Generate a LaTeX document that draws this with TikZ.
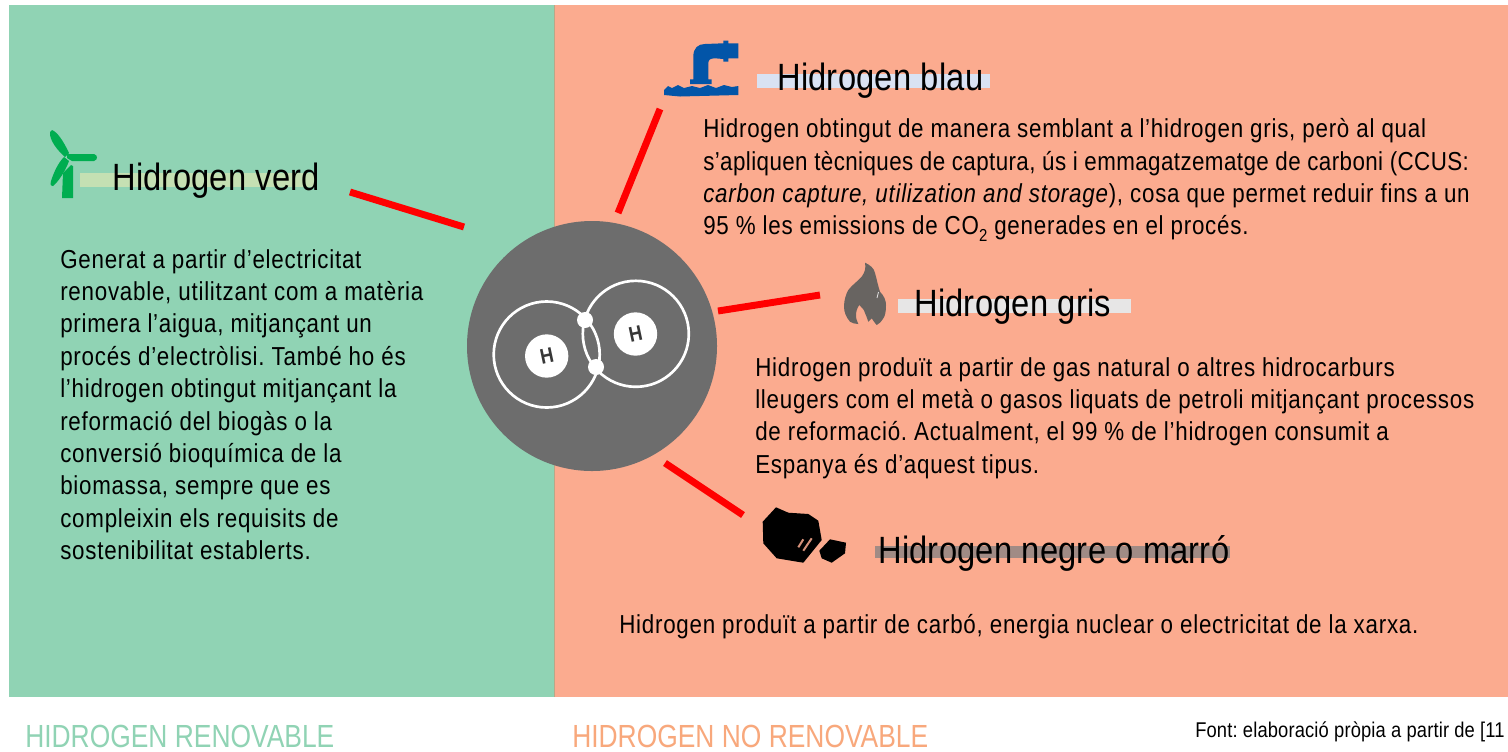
\documentclass[tikz,border=0pt]{standalone}
\usepackage{fontspec}
\setmainfont[FakeStretch=0.86]{Liberation Sans}
\newfontfamily\bodyfam[FakeStretch=0.86,LetterSpace=2.9]{Liberation Sans}
\newfontfamily\tightfam[FakeStretch=0.86,LetterSpace=1.6]{Liberation Sans}
\newfontfamily\titlefam[FakeStretch=0.86,LetterSpace=0.6]{Liberation Sans}
\newfontfamily\footfam[FakeStretch=0.825]{Liberation Sans}
\newfontfamily\notefam[FakeStretch=0.86,LetterSpace=0.7]{Liberation Sans}
\definecolor{greenbg}{HTML}{90D3B4}
\definecolor{salmonbg}{HTML}{FBAB8F}
\definecolor{seam}{HTML}{B8A888}
\definecolor{disc}{HTML}{6D6D6D}
\definecolor{turb}{HTML}{00AD50}
\definecolor{pipe}{HTML}{0255A8}
\definecolor{flame}{HTML}{686461}
\definecolor{hlgreen}{HTML}{C5E0B3}
\definecolor{hlblue}{HTML}{D9E2F3}
\definecolor{hlgrey}{HTML}{E7E6E6}
\definecolor{hlbrown}{HTML}{A08B85}
\definecolor{footgreen}{HTML}{90D3B4}
\definecolor{footorange}{HTML}{F8A87C}
\frenchspacing
\newcommand{\subtwo}{\raisebox{-5.2pt}{\fontsize{13}{13}\selectfont 2}}
\tikzset{
  x=0.75pt,y=-0.75pt,
  link/.style={draw=red,line width=5.2pt},
  titlelab/.style={anchor=base west,inner sep=0pt,font=\titlefam\fontsize{28.5}{28.5}\selectfont,text=black},
  bodylab/.style={anchor=north west,inner sep=0pt,align=left,font=\bodyfam\fontsize{19.5}{24.1}\selectfont,text=black},
  bodyleft/.style={bodylab,font=\bodyfam\fontsize{19.5}{24.3}\selectfont},
  footlab/.style={anchor=base west,inner sep=0pt,font=\footfam\fontsize{24}{24}\selectfont},
  ring/.style={draw=white,line width=2pt},
  elec/.style={circle,fill=white,inner sep=0pt,minimum size=12pt},
  nucleus/.style={circle,fill=white,inner sep=0pt,minimum size=32.5pt,text=disc!50!black,font=\bfseries\fontsize{16}{16}\selectfont}
}
\begin{document}
\begin{tikzpicture}
\useasboundingbox (0,0) rectangle (1508,751);
\fill[white] (0,0) rectangle (1508,751);
\fill[greenbg] (9,5) rectangle (554,697);
\fill[salmonbg] (554,5) rectangle (1508,697);
\draw[seam,line width=0.5pt] (554,5) -- (554,697);
% highlights
\fill[hlgreen] (80,173) rectangle (317,187);
\fill[hlblue] (757,74) rectangle (990,88);
\fill[hlgrey] (898,299) rectangle (1131,313);
\fill[hlbrown] (875,546) rectangle (1230,558);
% molecule
\node[circle,fill=disc,inner sep=0pt,minimum size=187.5pt] (disc) at (592,346) {};
\draw[ring] (546.7,354.5) circle (53);
\draw[ring] (635.8,333.8) circle (53);
\node[nucleus] (h1) at (546.7,356) {\rotatebox{12}{H}};
\node[nucleus] (h2) at (635.5,334) {\rotatebox{12}{H}};
\node[elec] (e1) at (585,320) {};
\node[elec] (e2) at (596,367) {};
% connector end points
\coordinate (vA) at (350,192); \coordinate (vB) at (464,227);
\coordinate (bA) at (660,109); \coordinate (bB) at (618,213);
\coordinate (gA) at (718,311); \coordinate (gB) at (820,295);
\coordinate (nA) at (665,463); \coordinate (nB) at (743,515);
\draw[link] (vA) -- (vB);
\draw[link] (bA) -- (bB);
\draw[link] (gA) -- (gB);
\draw[link] (nA) -- (nB);
% turbine
\fill[turb] (52,130) .. controls (57,132) and (63,140) .. (69,153) -- (65,157) .. controls (58,151) and (49,140) .. (50,132) -- cycle;
\fill[turb] (67,154) -- (94,154) .. controls (98,155) and (98,160) .. (94,161) -- (72,161) -- (67,158) -- cycle;
\fill[turb] (64,157) -- (69,161) .. controls (65,172) and (58,182) .. (53,186) .. controls (50,186) and (50,183) .. (51,181) .. controls (54,172) and (58,163) .. (64,157) -- cycle;
\fill[turb] (62,198) -- (63,173) -- (71,165) -- (73,166) -- (73,198) -- cycle;
% pipe
\fill[pipe] (693.3,79.3) -- (693.3,56.7) .. controls (693.3,48) and (698,44) .. (705,44) -- (723.3,43.3) -- (723.3,40.7) -- (728.3,40.7) -- (728.3,43.3) -- (738.3,43.3) -- (738.3,58.3) -- (728.3,58.3) -- (728.3,61.7) -- (723.3,61.7) -- (723.3,59) -- (715,58.3) .. controls (710,58.3) and (708.3,60) .. (708.3,63.3) -- (708.3,79.3) -- (711.7,79.3) -- (711.7,84) -- (690,84) -- (690,79.3) -- cycle;
\fill[pipe] (664,90) -- (668,86) -- (672,88) -- (678,85) -- (684,88) -- (692,86) -- (700,88) -- (708,85) -- (716,88) -- (724,85) -- (732,87) -- (738.3,86) -- (738.3,95) -- (680,96.5) -- (664,95) -- cycle;
% flame
\fill[flame] (865,262.7) .. controls (870,265) and (874,268) .. (875,273) .. controls (877,280) and (878,286) .. (880,291.7) .. controls (884,296) and (886,300) .. (886,305) .. controls (886,312) and (885,316) .. (883.3,318.3) .. controls (881,322) and (879,324) .. (876.7,325) .. controls (874,322) and (873,320) .. (871.7,318.3) -- (868.3,321.7) .. controls (867,318) and (866,315) .. (865,313) .. controls (864,309) and (861,307) .. (859.3,305) .. controls (857,308) and (856,312) .. (856,315) .. controls (856,319) and (857,321) .. (858.3,324) .. controls (855,324) and (852,323) .. (850,321.7) .. controls (846,317) and (844,312) .. (844,306.7) .. controls (844,300) and (846,294) .. (848.3,290) .. controls (852,285) and (858,281) .. (861.7,276.7) .. controls (865,272) and (866,268) .. (865,262.7) -- cycle;
\draw[hlgrey,line width=0.6pt] (878.5,292) -- (877,298);
% coal
\fill[black] (776,507.3) -- (788.3,512.7) -- (808.3,514) -- (818.3,520.7) -- (821.7,540) -- (803.3,562.7) -- (776.7,558.3) -- (763.3,543.3) -- (762.7,521.7) -- cycle;
\fill[black] (830,539.3) -- (846,542.7) -- (845,553.3) -- (831.7,562.7) -- (821.7,558.3) -- (819.3,550.7) -- cycle;
\draw[salmonbg!85!black,line width=1.5pt] (803.3,539.3) -- (798.3,547.3) (811.7,538.3) -- (803.3,550.7);
\draw[black,line width=0.7pt] (807.5,538) -- (800.5,550);
% titles
\node[titlelab] (tv) at (112,190.5) {Hidrogen verd};
\node[titlelab] (tb) at (777,90.5) {Hidrogen blau};
\node[titlelab] (tg) at (914,316.5) {Hidrogen gris};
\node[titlelab] (tn) at (878,563) {Hidrogen negre o marró};
% bodies
\node[bodyleft] (bv) at (60,249) {Generat a partir d’electricitat\\renovable, utilitzant com a matèria\\primera l’aigua, mitjançant un\\procés d’electròlisi. També ho és\\l’hidrogen obtingut mitjançant la\\reformació del biogàs o la\\conversió bioquímica de la\\biomassa, sempre que es\\compleixin els requisits de\\sostenibilitat establerts.};
\node[bodylab] (bb) at (703,118.5) {Hidrogen obtingut de manera semblant a l’hidrogen gris, però al qual\\{\tightfam s’apliquen tècniques de captura, ús i emmagatzematge de carboni (CCUS:}\\\textit{carbon capture, utilization and storage}), cosa que permet reduir fins a un\\95 \% les emissions de CO\subtwo{} generades en el procés.};
\node[bodylab] (bg) at (755,357.5) {Hidrogen produït a partir de gas natural o altres hidrocarburs\\lleugers com el metà o gasos liquats de petroli mitjançant processos\\de reformació. Actualment, el 99 \% de l’hidrogen consumit a\\Espanya és d’aquest tipus.};
\node[bodylab] (bn) at (619,614) {Hidrogen produït a partir de carbó, energia nuclear o electricitat de la xarxa.};
% footer
\node[footlab,text=footgreen] (fr) at (25,747.5) {HIDROGEN RENOVABLE};
\node[footlab,text=footorange] (fn) at (572,747.5) {HIDROGEN NO RENOVABLE};
\node[anchor=base west,inner sep=0pt,font=\notefam\fontsize{16}{16}\selectfont] (fs) at (1195,737) {Font: elaboració pròpia a partir de [11};
\end{tikzpicture}
\end{document}
